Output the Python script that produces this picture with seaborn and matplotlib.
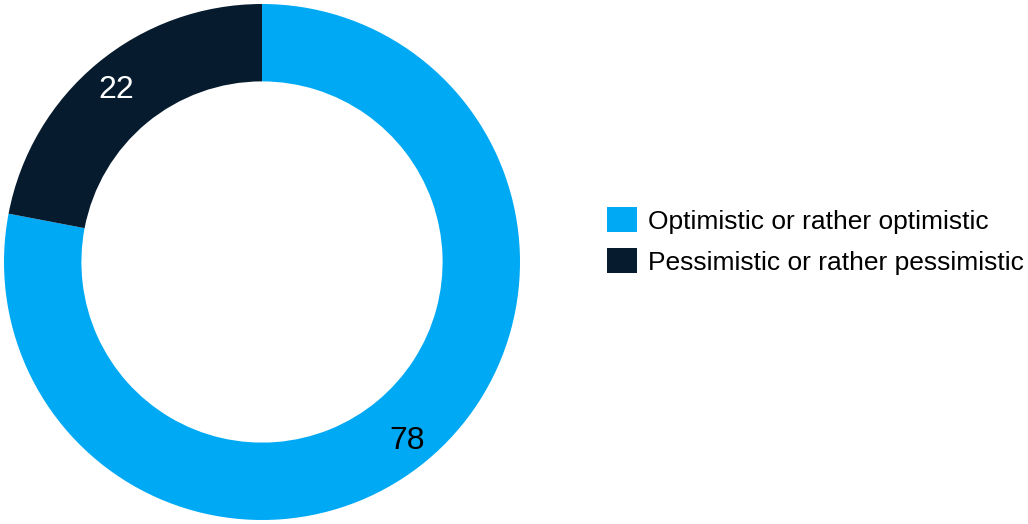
import matplotlib
matplotlib.use("Agg")
import matplotlib.pyplot as plt
import matplotlib.patches as mpatches
import seaborn as sns

# Survey outlook shares (percent)
categories = ["Optimistic or rather optimistic", "Pessimistic or rather pessimistic"]
values = [78, 22]
colors = ["#00A9F4", "#061C2E"]
label_colors = ["#000000", "#FFFFFF"]

sns.set_theme(style="white")
plt.rcParams["font.family"] = ["Liberation Sans", "DejaVu Sans"]
plt.rcParams["text.color"] = "black"

W, H = 1028, 524
fig = plt.figure(figsize=(W / 100, H / 100), dpi=100)
fig.patch.set_facecolor("white")

# Donut axes: centre (262, 262) px, outer radius 258 px
cx, cy, r = 262, 262, 258
ax = fig.add_axes([(cx - r) / W, (H - cy - r) / H, 2 * r / W, 2 * r / H])
wedges, texts, autotexts = ax.pie(
    values,
    colors=colors,
    startangle=90,
    counterclock=False,
    radius=1.0,
    wedgeprops=dict(width=0.30, edgecolor="none"),
    autopct=lambda p: f"{p:.0f}",
    pctdistance=0.885,
    textprops=dict(fontsize=23),
)
for t, c in zip(autotexts, label_colors):
    t.set_color(c)
    t.set_verticalalignment("center_baseline")
ax.set_xlim(-1, 1)
ax.set_ylim(-1, 1)
ax.set_aspect("equal")
ax.axis("off")

handles = [mpatches.Patch(facecolor=c, edgecolor="none") for c in colors]
fig.legend(
    handles,
    categories,
    loc="center left",
    bbox_to_anchor=(604 / W, 1 - 241 / H),
    frameon=False,
    fontsize=19,
    handlelength=1.14,
    handleheight=1.06,
    handletextpad=0.42,
    labelspacing=0.56,
    borderaxespad=0,
    borderpad=0.1,
)

fig.savefig("out.png", dpi=100, facecolor="white")
